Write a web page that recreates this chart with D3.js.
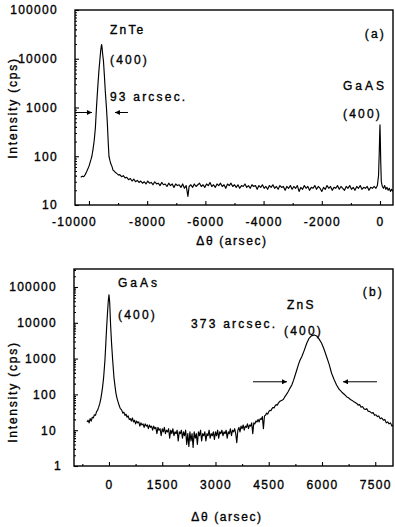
<!DOCTYPE html>
<html><head><meta charset="utf-8">
<script src="https://cdn.jsdelivr.net/npm/d3@7"></script>
<style>
body{margin:0;background:#fff}
svg{display:block}
text{font-family:"Liberation Sans",Arial,sans-serif;fill:#000}
</style>
</head><body>
<svg id="c" width="395" height="527"></svg>
<script>
// ---------- data ----------
const topXTicks = [-10000,-8000,-6000,-4000,-2000,0];
const topXMinor = [-9000,-7000,-5000,-3000,-1000];
const topYTicks = [10,100,1000,10000,100000];
const botXTicks = [0,1500,3000,4500,6000,7500];
const botXMinor = [-750,750,2250,3750,5250,6750];
const botYTicks = [1,10,100,1000,10000,100000];

// panel (a): ZnTe (400) and GaAs (400) — [delta-theta arcsec, intensity cps]
const topData = [
[-10280,37],[-10230,39],[-10180,38],[-10130,42],[-10080,48],[-10040,55],[-10000,62],[-9966,73],[-9930,86],[-9900,100],
[-9860,140],[-9820,210],[-9780,380],[-9742,1000],[-9700,2500],[-9660,5500],[-9622,10000],[-9595,15000],[-9575,18500],[-9564,19500],
[-9550,17000],[-9530,12500],[-9502,9000],[-9470,4500],[-9440,2200],[-9400,1000],[-9370,500],[-9340,200],[-9313,100],[-9280,82],
[-9250,70],[-9210,62],[-9175,52],[-9140,50],[-9100,47],[-9060,45],[-9020,43],[-8980,41],[-8940,42],[-8880,38],[-8820,40],[-8760,36],
[-8700,37],[-8640,33],[-8580,35],[-8520,31],[-8460,34],[-8400,30],[-8340,32],[-8280,29],[-8220,31],[-8160,28],[-8100,30],[-8040,27],
[-7980,31],[-7920,28],[-7860,29],[-7800,26],[-7740,30],[-7680,27],[-7620,28],[-7560,25],[-7500,29],[-7440,26],[-7380,27],[-7320,24],
[-7260,28],[-7200,25],[-7140,27],[-7080,23],[-7020,27],[-6960,25],[-6900,26],[-6840,23],[-6780,27],[-6720,22],[-6660,25],[-6600,15],
[-6560,24],[-6500,26],[-6440,23],[-6380,27],[-6320,24],[-6260,26],[-6200,28],[-6140,24],[-6080,26],[-6020,23],[-5960,27],[-5900,25],
[-5840,29],[-5780,24],[-5720,26],[-5660,23],[-5600,27],[-5540,25],[-5480,28],[-5420,24],[-5360,26],[-5300,22],[-5240,27],[-5180,25],
[-5120,28],[-5060,24],[-5000,26],[-4940,23],[-4880,26],[-4820,22],[-4760,25],[-4700,24],[-4640,27],[-4580,23],[-4520,25],[-4460,22],
[-4400,26],[-4340,24],[-4280,25],[-4220,21],[-4160,25],[-4100,23],[-4040,26],[-3980,22],[-3920,24],[-3860,21],[-3800,25],[-3740,23],
[-3680,26],[-3620,22],[-3560,24],[-3500,21],[-3440,25],[-3380,23],[-3320,24],[-3260,20],[-3200,24],[-3140,22],[-3080,25],[-3020,21],
[-2960,24],[-2900,22],[-2840,25],[-2780,19],[-2720,23],[-2660,21],[-2600,25],[-2540,22],[-2480,24],[-2420,20],[-2360,23],[-2300,22],
[-2240,25],[-2180,21],[-2120,24],[-2060,22],[-2000,19],[-1940,23],[-1880,21],[-1820,25],[-1760,22],[-1700,24],[-1640,20],[-1580,23],
[-1520,22],[-1460,25],[-1400,21],[-1340,24],[-1280,22],[-1220,20],[-1160,24],[-1100,22],[-1040,25],[-980,21],[-920,23],[-860,20],
[-800,24],[-740,22],[-680,25],[-620,21],[-560,23],[-500,22],[-440,24],[-380,20],[-320,23],[-260,22],[-200,24],[-140,22],[-90,25],
[-50,40],[-25,120],[-10,300],[0,440],[10,250],[25,80],[45,30],[80,24],[120,22],[160,25],[200,21],[240,23],[280,20],[320,22],
[360,19],[400,21],[440,19]
];

// panel (b): GaAs (400) and ZnS (400)
const botData = [
[-620,17],[-590,19],[-560,16],[-530,21],[-500,18],[-470,23],[-440,22],[-410,27],[-380,26],[-350,33],[-320,36],[-290,44],[-260,55],
[-230,75],[-205,107],[-180,160],[-150,300],[-113,910],[-90,2500],[-65,7800],[-40,20000],[-20,40000],[0,60000],[20,38000],[48,7800],
[75,2500],[104,910],[140,300],[170,170],[197,107],[230,75],[260,60],[290,48],[320,40],[357,37],[390,30],[420,32],[450,26],[480,28],
[510,23],[540,25],[570,20],[600,21],[630,18],[660,22],[690,17],[720,19],[750,15],[780,18],[810,16],[840,17],[870,13],[900,16],
[930,14],[960,15],[990,12],[1020,15],[1050,13],[1080,14],[1110,11],[1140,14],[1170,12],[1200,13],[1230,10],[1260,13],[1290,11],
[1320,12],[1350,8],[1380,12],[1410,10],[1440,11],[1470,7],[1500,11],[1530,9],[1560,12],[1590,8],[1620,10],[1650,9],[1680,11],
[1710,6],[1740,10],[1770,8],[1800,11],[1830,7],[1860,9],[1890,8],[1920,10],[1950,5],[1980,9],[2010,8],[2040,10],[2070,6],[2100,9],
[2130,7],[2160,10],[2190,4],[2220,8],[2250,3.5],[2280,9],[2310,5],[2340,8],[2370,3.3],[2400,9],[2430,6],[2460,8],[2490,4],[2520,9],
[2550,7],[2580,10],[2610,5],[2640,8],[2670,7],[2700,9],[2730,5],[2760,8],[2790,7],[2820,10],[2850,6],[2880,8],[2910,7],[2940,9],
[2970,5.5],[3000,9],[3030,7],[3060,10],[3090,6],[3120,9],[3150,8],[3180,10],[3210,7],[3240,9],[3270,8],[3300,10],[3330,6],[3360,9],
[3390,8],[3420,11],[3450,7],[3480,10],[3510,9],[3540,11],[3570,8],[3600,4.5],[3630,10],[3660,12],[3690,9],[3720,13],[3750,11],
[3780,14],[3810,10],[3840,13],[3870,12],[3900,15],[3930,11],[3960,14],[3990,13],[4020,16],[4050,8],[4080,16],[4110,15],[4140,18],
[4170,17],[4200,20],[4230,17],[4260,21],[4290,20],[4320,24],[4350,11],[4380,25],[4410,26],[4440,30],[4470,28],[4500,33],[4530,36],
[4560,35],[4590,40],[4620,43],[4650,42],[4680,48],[4710,52],[4740,50],[4770,57],[4800,62],[4830,65],[4860,68],[4910,72],[4950,85],
[5000,100],[5050,120],[5100,150],[5150,183],[5200,250],[5250,360],[5290,480],[5340,700],[5380,900],[5430,1130],[5500,1700],
[5570,2680],[5630,3600],[5700,4300],[5785,4570],[5850,4300],[5920,3500],[5990,2680],[6060,1800],[6130,1130],[6200,700],[6270,390],
[6340,260],[6410,183],[6480,140],[6560,115],[6650,96],[6700,85],[6750,80],[6800,72],[6850,68],[6900,62],[6950,58],[6980,56],
[7020,50],[7060,52],[7100,44],[7140,46],[7180,40],[7220,38],[7260,40],[7300,34],[7350,33],[7400,30],[7440,31],[7480,26],[7520,27],
[7560,24],[7600,25],[7640,21],[7680,22],[7730,19],[7770,20],[7810,16],[7850,17],[7890,15],[7930,16],[7970,13],[8000,14]
];

// ---------- drawing ----------
const svg = d3.select('#c');
const defs = svg.append('defs');
defs.append('marker').attr('id','ah').attr('viewBox','0 0 10 10').attr('refX',10).attr('refY',5)
  .attr('markerWidth',7).attr('markerHeight',5).attr('markerUnits','userSpaceOnUse').attr('orient','auto')
  .append('path').attr('d','M0,0L10,5L0,10Z').attr('fill','#000');

function minorLog(dom){
  const out=[]; const lo=Math.floor(Math.log10(dom[0])), hi=Math.ceil(Math.log10(dom[1]));
  for(let e=lo;e<=hi;e++) for(let m=2;m<=9;m++){const v=m*Math.pow(10,e); if(v>dom[0]&&v<dom[1]) out.push(v);}
  return out;
}

function heavy(sel){ return sel.attr('stroke','#000').attr('stroke-width',0.35); }

function panel(cfg){
  const g = svg.append('g');
  const x = d3.scaleLinear().domain(cfg.xDomain).range([cfg.left,cfg.right]);
  const y = d3.scaleLog().domain(cfg.yDomain).range([cfg.bottom,cfg.top]);
  const cid = 'clip'+cfg.id;
  defs.append('clipPath').attr('id',cid).append('rect')
    .attr('x',cfg.left).attr('y',cfg.top).attr('width',cfg.right-cfg.left).attr('height',cfg.bottom-cfg.top);
  g.append('path').datum(cfg.data).attr('clip-path',`url(#${cid})`)
    .attr('d',d3.line().x(d=>x(d[0])).y(d=>y(d[1])))
    .attr('fill','none').attr('stroke','#000').attr('stroke-width',1.15).attr('stroke-linejoin','round');

  // x axis
  const xa = g.append('g').attr('transform',`translate(0,${cfg.bottom})`)
    .call(d3.axisBottom(x).tickValues(cfg.xTicks).tickSize(-4).tickPadding(cfg.xPad).tickFormat(d=>String(d)));
  g.append('g').attr('transform',`translate(0,${cfg.bottom})`)
    .call(d3.axisBottom(x).tickValues(cfg.xMinor).tickSize(-2).tickFormat(''));
  // y axis
  const ya = g.append('g').attr('transform',`translate(${cfg.left},0)`)
    .call(d3.axisLeft(y).tickValues(cfg.yTicks).tickSize(-4).tickPadding(17).tickFormat(d=>String(d)));
  g.append('g').attr('transform',`translate(${cfg.left},0)`)
    .call(d3.axisLeft(y).tickValues(minorLog(cfg.yDomain)).tickSize(-2).tickFormat(''));
  g.selectAll('.domain').remove();
  g.selectAll('.tick line').attr('stroke','#000').attr('stroke-width',1.1);
  heavy(g.selectAll('.tick text').attr('font-size',12).attr('letter-spacing',1.3)
    .attr('font-family','"Liberation Sans",Arial,sans-serif').attr('fill','#000'));
  if(cfg.tweak) cfg.tweak(xa,ya);

  // frame
  g.append('rect').attr('x',cfg.left).attr('y',cfg.top).attr('width',cfg.right-cfg.left).attr('height',cfg.bottom-cfg.top)
    .attr('fill','none').attr('stroke','#000').attr('stroke-width',1.4);

  // axis titles
  heavy(g.append('text').attr('transform',`translate(13,${cfg.yTitle}) rotate(-90)`).attr('text-anchor','middle')
    .attr('dominant-baseline','central').attr('font-size',12).attr('letter-spacing',1.8).text('Intensity (cps)'));
  heavy(g.append('text').attr('x',cfg.xTitleX).attr('y',cfg.xTitleY).attr('text-anchor','middle')
    .attr('dominant-baseline','central').attr('font-size',12).attr('letter-spacing',1.6).text('\u0394\u03b8  (arsec)'));

  // annotations
  cfg.labels.forEach(l=>{
    heavy(g.append('text').attr('x',l.x).attr('y',l.y).attr('text-anchor',l.a||'start')
      .attr('dominant-baseline','central').attr('font-size',12).attr('letter-spacing',l.ls||2.2).text(l.t));
  });
  // FWHM arrows (in data coords)
  cfg.arrows.forEach(a=>{
    g.append('line').attr('x1',x(a[0])).attr('x2',x(a[1])).attr('y1',y(a[2])).attr('y2',y(a[2]))
      .attr('stroke','#000').attr('stroke-width',1).attr('marker-end','url(#ah)');
  });
}

panel({
  id:'a', data:topData, xDomain:[-10480,447], yDomain:[10,100000],
  left:75, right:393, top:10, bottom:205,
  xTicks:topXTicks, xMinor:topXMinor, yTicks:topYTicks, xPad:12.5,
  yTitle:108, xTitleX:232, xTitleY:241,
  tweak:(xa,ya)=>{ xa.selectAll('.tick text').filter(d=>d===-10000).attr('dx',-15); },
  labels:[
    {t:'ZnTe',x:110,y:30},{t:'(400)',x:110,y:60},{t:'93 arcsec.',x:110,y:97},
    {t:'(a)',x:386,y:34,a:'end'},{t:'GaAS',x:343,y:86,ls:3},{t:'(400)',x:343,y:114}
  ],
  arrows:[[-10480,-9897,790],[-8660,-9107,790]]
});

panel({
  id:'b', data:botData, xDomain:[-985,8000], yDomain:[1,318000],
  left:74, right:393, top:269, bottom:466,
  xTicks:botXTicks, xMinor:botXMinor, yTicks:botYTicks, xPad:14.5,
  yTitle:392, xTitleX:227, xTitleY:517,
  tweak:(xa,ya)=>{ ya.selectAll('.tick text').filter(d=>d===1).attr('dx',5); },
  labels:[
    {t:'GaAs',x:118,y:283,ls:3},{t:'(400)',x:118,y:315},
    {t:'ZnS',x:287,y:305},{t:'(400)',x:284,y:331},{t:'373 arcsec.',x:191,y:324},
    {t:'(b)',x:384,y:292,a:'end'}
  ],
  arrows:[[4056,5014,225],[7550,6592,225]]
});
</script>
</body></html>
